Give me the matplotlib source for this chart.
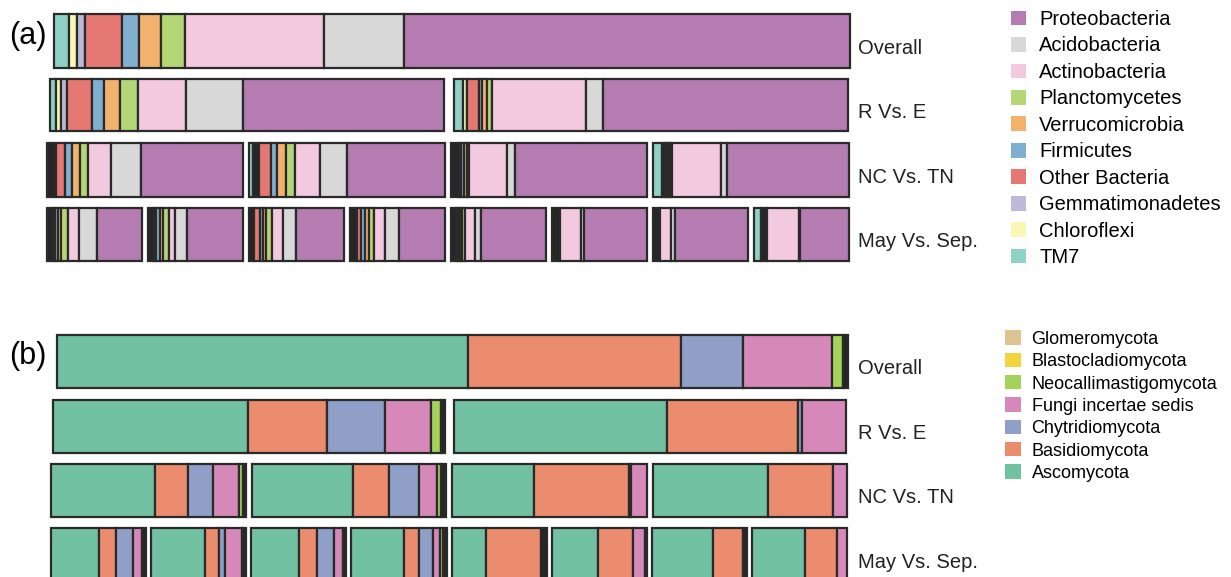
import numpy as np
import matplotlib
matplotlib.use("Agg")
import matplotlib.pyplot as plt
from matplotlib.patches import Patch

plt.rcParams['font.family'] = ['Liberation Sans', 'DejaVu Sans']

# ---- panel (a): bacteria, segment order left -> right ----
bact_names = ['TM7', 'Others', 'Chloroflexi', 'Gemmatimonadetes', 'Other Bacteria',
              'Firmicutes', 'Verrucomicrobia', 'Planctomycetes', 'Actinobacteria',
              'Acidobacteria', 'Proteobacteria']
bact_colors = ['#8ed2c5', '#262626', '#fbf6b5', '#bdb9d9', '#e57872',
               '#80afd0', '#f2b16d', '#b4d677', '#f2c9de', '#d8d8d8', '#b47cb0']

# relative abundances (normalised per bar)
a_overall = [[15, 0, 8, 8, 37, 17, 22, 24, 139, 80, 446]]
a_r_vs_e = [[6, 0, 5, 5.6, 25.4, 11.6, 16.4, 18, 48, 57, 200.6],
            [9.4, 0, 4, 0.5, 11.6, 3.4, 5, 5, 94, 16.6, 246]]
a_nc_vs_tn = [[0, 9, 0, 0, 9.3, 6.4, 8.3, 8.7, 22.6, 30.4, 102.6],
              [4, 6, 0, 0, 12.3, 5.7, 8.7, 9.3, 25, 27.3, 97.7],
              [0, 8, 0, 0, 2.5, 3, 2.5, 2.5, 37.6, 7.7, 132.3],
              [9.4, 2.5, 0, 0, 2, 1.5, 1.5, 2.5, 48.4, 5.6, 122]]
a_may_vs_sep = [[0, 5.6, 0, 0, 2.7, 3, 3, 7, 11, 17.4, 45.6],
                [0, 6, 0, 0, 2.5, 3.5, 3.5, 5.5, 6.7, 11.7, 56.6],
                [0, 5, 0, 0, 6, 3.4, 3, 6, 11, 13.3, 48],
                [0, 7.4, 0, 0, 4, 3.5, 4, 5.1, 11.7, 13.3, 46.7],
                [0, 5.3, 0, 0, 2, 2, 2, 2.7, 10.3, 6.4, 65.3],
                [0, 8.3, 0, 0, 0, 0, 0, 0, 20.7, 2.5, 62],
                [0, 7.3, 0, 0, 0, 0, 0, 0, 10.7, 4, 72.3],
                [6.7, 6, 0, 0, 0, 0, 0, 0, 32.6, 1, 49]]
bact_legend = ['Proteobacteria', 'Acidobacteria', 'Actinobacteria', 'Planctomycetes',
               'Verrucomicrobia', 'Firmicutes', 'Other Bacteria', 'Gemmatimonadetes',
               'Chloroflexi', 'TM7']

# ---- panel (b): fungi ----
fung_names = ['Ascomycota', 'Basidiomycota', 'Chytridiomycota', 'Fungi incertae sedis',
              'Neocallimastigomycota', 'Blastocladiomycota', 'Glomeromycota', 'Others']
fung_colors = ['#72c1a3', '#ea8c6d', '#909fc8', '#d689b8',
               '#a4d35a', '#f4d43d', '#dfc393', '#262626']

b_overall = [[410.4, 212.3, 61.7, 89.3, 10.7, 0, 0, 5]]
b_r_vs_e = [[195, 79.4, 57.3, 46, 10, 0, 0, 5],
            [213.7, 130.6, 3.4, 44.3, 0, 0, 0, 0]]
b_nc_vs_tn = [[104, 32.6, 25, 26.7, 3.3, 0, 0, 2.7],
              [101.6, 36, 30.7, 17.7, 4, 0, 0, 5],
              [82, 94, 2, 15.7, 0, 0, 0, 0],
              [114.6, 64.4, 0, 14.3, 0, 0, 0, 0]]
b_may_vs_sep = [[47.6, 16.7, 17, 9, 0, 0, 0, 4],
                [53.3, 13.7, 6.3, 17, 0, 0, 0, 4],
                [47.6, 17.7, 16.7, 9, 0, 0, 0, 3.3],
                [52.6, 15, 14, 6.7, 3.3, 0, 0, 3.7],
                [34.7, 55, 0, 0, 0, 0, 0, 5.3],
                [45.7, 35.6, 0, 12, 0, 0, 0, 1.4],
                [60.6, 30, 0, 0, 0, 0, 0, 3.7],
                [52.7, 30.7, 0, 10.3, 0, 0, 0, 0]]
fung_legend = ['Glomeromycota', 'Blastocladiomycota', 'Neocallimastigomycota',
               'Fungi incertae sedis', 'Chytridiomycota', 'Basidiomycota', 'Ascomycota']

row_labels = ['Overall', 'R Vs. E', 'NC Vs. TN', 'May Vs. Sep.']

W, H = 1231, 577
fig = plt.figure(figsize=(W / 100, H / 100), dpi=100)
EDGE = '#2a2a2a'


def draw_row(bars, colors, left, right, top, bottom, gap):
    n = len(bars)
    w = (right - left - gap * (n - 1)) / n
    for i, vals in enumerate(bars):
        x0 = left + i * (w + gap)
        ax = fig.add_axes([x0 / W, 1 - bottom / H, w / W, (bottom - top) / H])
        vals = np.array(vals, dtype=float)
        vals = vals / vals.sum()
        starts = np.concatenate([[0], np.cumsum(vals)[:-1]])
        keep = vals > 0
        ax.barh(np.zeros(keep.sum()), vals[keep], left=starts[keep], height=1,
                color=np.array(colors)[keep], edgecolor=EDGE, linewidth=1.6,
                clip_on=False)
        ax.set_xlim(0, 1)
        ax.set_ylim(-0.5, 0.5)
        ax.axis('off')


a_rows = [a_overall, a_r_vs_e, a_nc_vs_tn, a_may_vs_sep]
a_geom = [(54, 850, 14, 68, 0), (50, 848, 79, 131, 9),
          (47, 849, 143, 197, 6), (47, 849, 208, 261, 6)]
b_rows = [b_overall, b_r_vs_e, b_nc_vs_tn, b_may_vs_sep]
b_geom = [(57, 848, 335, 388, 0), (53, 846, 400, 453, 8),
          (51, 847, 464, 517, 6), (51, 847, 528, 584, 5)]

for rows, geom, colors in [(a_rows, a_geom, bact_colors), (b_rows, b_geom, fung_colors)]:
    for bars, (l, r, t, b, g), lab in zip(rows, geom, row_labels):
        draw_row(bars, colors, l, r, t, b, g)
        fig.text(858 / W, 1 - ((t + b) / 2 + 7) / H, lab, fontsize=14.5,
                 ha='left', va='center', color='#222222')

fig.text(9 / W, 1 - 36 / H, '(a)', fontsize=22, ha='left', va='center')
fig.text(9 / W, 1 - 356 / H, '(b)', fontsize=22, ha='left', va='center')

leg_a = [Patch(facecolor=bact_colors[bact_names.index(n)], edgecolor='none', label=n)
         for n in bact_legend]
fig.legend(handles=leg_a, loc='upper left', bbox_to_anchor=(1005 / W, 1 - 4 / H),
           frameon=False, fontsize=14.5, handlelength=0.75, handleheight=0.75,
           handletextpad=0.65, labelspacing=0.37, borderaxespad=0, borderpad=0.3)

leg_b = [Patch(facecolor=fung_colors[fung_names.index(n)], edgecolor='none', label=n)
         for n in fung_legend]
fig.legend(handles=leg_b, loc='upper left', bbox_to_anchor=(1000 / W, 1 - 325 / H),
           frameon=False, fontsize=13, handlelength=0.85, handleheight=0.85,
           handletextpad=0.6, labelspacing=0.27, borderaxespad=0, borderpad=0.3)

fig.savefig('out.png', dpi=100)
